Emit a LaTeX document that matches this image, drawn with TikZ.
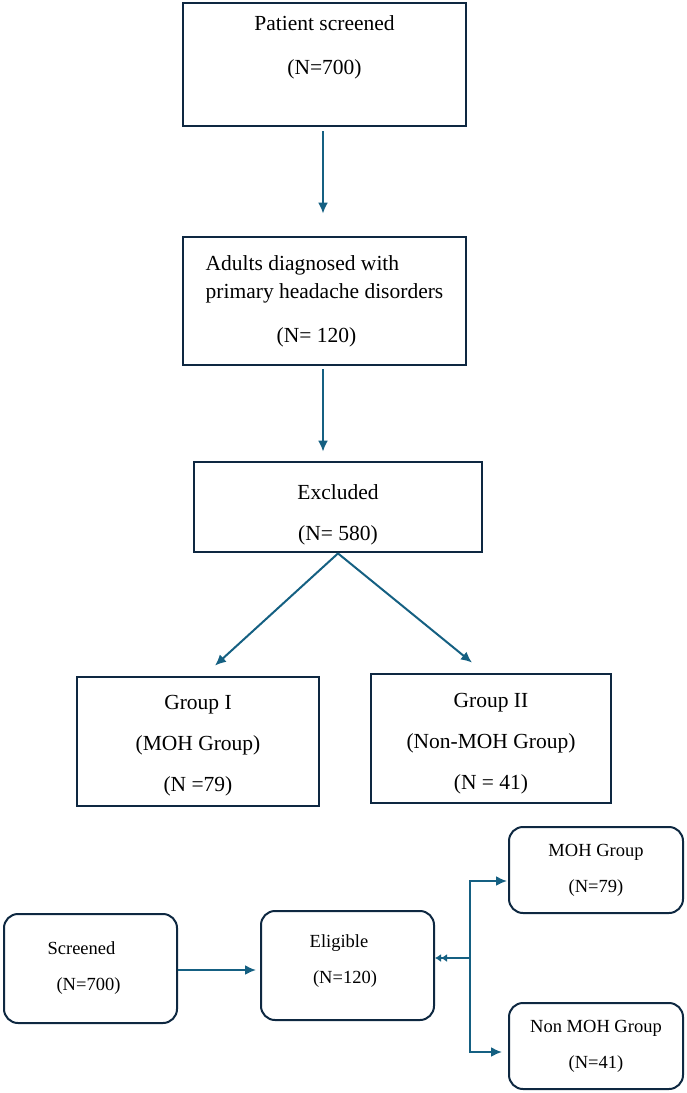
\documentclass[tikz,border=0pt]{standalone}
\usepackage{fontspec}
\setmainfont{Liberation Serif}
\usetikzlibrary{arrows.meta}
\definecolor{boxline}{HTML}{0E2841}
\definecolor{arrline}{HTML}{156082}

\begin{document}
\begin{tikzpicture}[x=1pt,y=-1pt,
  topbox/.style={draw=boxline,line width=2.8pt,inner sep=0pt,
    font=\fontsize{21.5}{28}\selectfont},
  softbox/.style={draw=boxline,line width=2pt,rounded corners=14pt,inner sep=0pt,
    align=center,minimum width=173pt,font=\fontsize{18.5}{22}\selectfont},
  arr/.style={arrline,line width=2pt,-{Latex[length=11pt,width=10pt]}},
  arrtwo/.style={arrline,line width=2pt,-{Latex[length=6pt,width=8pt]Latex[length=6pt,width=8pt]}}]
\useasboundingbox (0,0) rectangle (686,1093);
% upper chart
\node[topbox,align=center,minimum width=283pt,minimum height=123pt] (scr) at (324.5,64.5)
  {Patient screened\\[16pt](N=700)\\[10pt]\mbox{}};
\node[topbox,align=left,minimum width=283pt,minimum height=128pt] (adl) at (324.5,301)
  {Adults diagnosed with\\primary headache disorders\\[16pt]\hspace*{71pt}(N= 120)};
\node[topbox,align=center,minimum width=288pt,minimum height=90pt] (exc) at (338,507)
  {\rule{0pt}{31pt}Excluded\\[13pt](N= 580)};
\node[topbox,align=center,minimum width=242pt,minimum height=129pt] (gI) at (198,741.5)
  {\rule{0pt}{23pt}Group I\\[13pt](MOH Group)\\[13pt](N =79)};
\node[topbox,align=center,minimum width=240pt,minimum height=129pt] (gII) at (491,738.5)
  {\rule{0pt}{25pt}Group II\\[13pt](Non-MOH Group)\\[13pt](N = 41)};
\draw[arr] ([xshift=-1.5pt,yshift=-4pt]scr.south) -- ([xshift=-1.5pt,yshift=22pt]adl.north);
\draw[arr] ([xshift=-1.5pt,yshift=-3pt]adl.south) -- ([xshift=-1.5pt,yshift=9pt]adl.south |- exc.north);
\draw[arr] (exc.south) -- ([xshift=17pt,yshift=10pt]gI.north);
\draw[arr] (exc.south) -- ([xshift=-19pt,yshift=10pt]gII.north);
% lower chart
\node[softbox,minimum height=109pt] (scrb) at (90.5,968.5)
  {Screened\hspace*{18pt}\\[14pt](N=700)\hspace*{4pt}};
\node[softbox,minimum height=109pt] (elig) at (347.5,965.5)
  {Eligible\hspace*{17pt}\\[14pt](N=120)\hspace*{5pt}\rule[-12pt]{0pt}{12pt}};
\node[softbox,minimum width=174pt,minimum height=86pt] (moh) at (596,870)
  {MOH Group\\[14pt](N=79)};
\node[softbox,minimum width=174pt,minimum height=86pt] (nmoh) at (596,1046)
  {Non MOH Group\\[14pt](N=41)};
\coordinate (br) at (470,958);
\draw[arr] ([yshift=-1.5pt]scrb.east) -- ([xshift=-4pt,yshift=-1.5pt]scrb.east -| elig.west);
\draw[arrtwo] (br) -- (br -| elig.east);
\draw[arr] (br) |- ([xshift=-1pt,yshift=-11pt]moh.west);
\draw[arr] (br) |- ([xshift=-6pt,yshift=-6pt]nmoh.west);
\end{tikzpicture}
\end{document}
